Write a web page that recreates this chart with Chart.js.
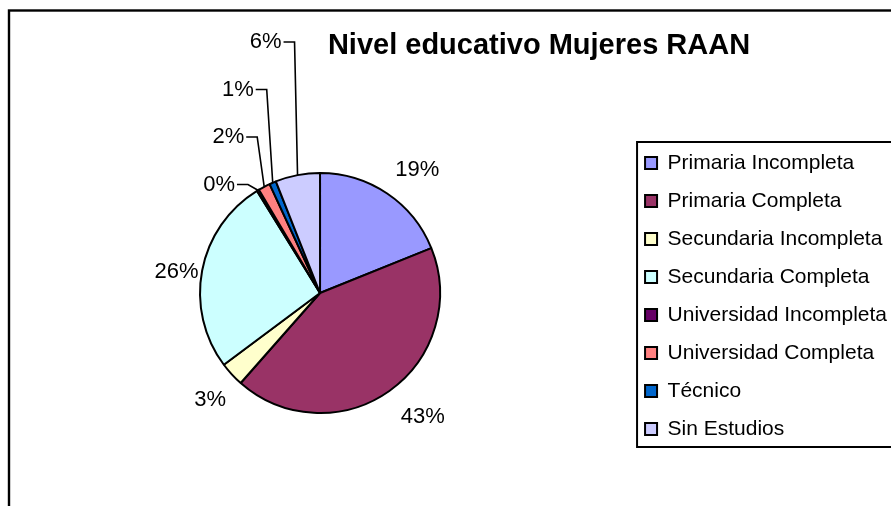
<!DOCTYPE html>
<html>
<head>
<meta charset="utf-8">
<script src="https://cdn.jsdelivr.net/npm/chart.js"></script>
<style>
body { margin: 0; background: #fff; }
#wrap { width: 891px; height: 506px; }
</style>
</head>
<body>
<div id="wrap"><canvas id="chart" width="891" height="506"></canvas></div>
<script>
var titulo = 'Nivel educativo Mujeres RAAN';

var categorias = [
    'Primaria Incompleta',
    'Primaria Completa',
    'Secundaria Incompleta',
    'Secundaria Completa',
    'Universidad Incompleta',
    'Universidad Completa',
    'Técnico',
    'Sin Estudios'
];

// porcentajes
var porcentajes = [18.9, 42.6, 3.3, 26.4, 0.3, 1.6, 0.9, 6.0];

var colores = [
    '#9999FF',
    '#993366',
    '#FFFFCC',
    '#CCFFFF',
    '#660066',
    '#FF8080',
    '#0066CC',
    '#CCCCFF'
];

var FUENTE = '"Liberation Sans", Arial, sans-serif';

// etiquetas de porcentaje, titulo y marcos
var etiquetasPlugin = {
    id: 'etiquetas',
    afterDraw: function(chart, args, opts) {
        var ctx = chart.ctx;
        var meta = chart.getDatasetMeta(0);
        var data = chart.data.datasets[0].data;
        var total = data.reduce(function(a, b) { return a + b; }, 0);
        var k = 0;

        ctx.save();
        ctx.fillStyle = '#000';
        ctx.strokeStyle = '#000';
        ctx.lineWidth = 1.6;
        ctx.font = '22px ' + FUENTE;
        ctx.textBaseline = 'middle';

        meta.data.forEach(function(arc, i) {
            var txt = Math.round(data[i] / total * 100) + '%';
            var mid = (arc.startAngle + arc.endAngle) / 2;
            var cx = arc.x, cy = arc.y, r = arc.outerRadius;
            if (opts.conGuia.indexOf(i) < 0) {
                var p = opts.posiciones[i];
                var a = mid + p.giro * Math.PI / 180;
                ctx.textAlign = 'center';
                ctx.fillText(txt, cx + Math.cos(a) * p.dist, cy + Math.sin(a) * p.dist);
            } else {
                var ax = cx + Math.cos(mid) * r;
                var ay = cy + Math.sin(mid) * r;
                var ly = cy + opts.guia.y0 - k * opts.guia.paso;
                var ex = ax + opts.guia.codo[k];
                ctx.beginPath();
                ctx.moveTo(ex - opts.guia.largo, ly);
                ctx.lineTo(ex, ly);
                ctx.lineTo(ax, ay);
                ctx.stroke();
                ctx.textAlign = 'right';
                ctx.fillText(txt, ex - opts.guia.largo - 2, ly);
                k++;
            }
        });

        // titulo
        ctx.font = 'bold 29px ' + FUENTE;
        ctx.textAlign = 'center';
        ctx.fillText(titulo, opts.titulo.x, opts.titulo.y);

        // marco exterior
        ctx.lineWidth = 2.4;
        ctx.strokeRect(9, 10.5, 1000, 1000);

        // marco de la leyenda
        ctx.lineWidth = 2;
        var hb = chart.legend.legendHitBoxes;
        if (hb && hb.length) {
            var top = hb[0].top - 10.5;
            var bottom = hb[hb.length - 1].top + hb[hb.length - 1].height + 7.5;
            ctx.strokeRect(hb[0].left - 8, top, 1000, bottom - top);
        }
        ctx.restore();
    }
};

var ctxPie = document.getElementById('chart').getContext('2d');
var myChart = new Chart(ctxPie, {
    type: 'pie',
    data: {
        labels: categorias,
        datasets: [{
            data: porcentajes,
            backgroundColor: colores,
            borderColor: '#000',
            borderWidth: 2
        }]
    },
    options: {
        responsive: false,
        animation: false,
        radius: 120,
        layout: {
            padding: { left: 12, right: -6, top: 100, bottom: 20 }
        },
        plugins: {
            tooltip: { enabled: false },
            legend: {
                display: true,
                position: 'right',
                align: 'center',
                title: { display: true, text: '', font: { size: 5 }, padding: 0 },
                labels: {
                    boxWidth: 12,
                    boxHeight: 12,
                    padding: 17,
                    color: '#000',
                    font: { size: 21, family: FUENTE }
                }
            },
            etiquetas: {
                conGuia: [4, 5, 6, 7],
                posiciones: [
                    { dist: 157, giro: 4.3 },
                    { dist: 161, giro: -4.4 },
                    { dist: 153, giro: -1.5 },
                    { dist: 145, giro: -2.4 }
                ],
                guia: { y0: -108.5, paso: 47.5, codo: [-10, -7, -6, -3], largo: 11 },
                titulo: { x: 539, y: 46 }
            }
        }
    },
    plugins: [etiquetasPlugin]
});
</script>
</body>
</html>
